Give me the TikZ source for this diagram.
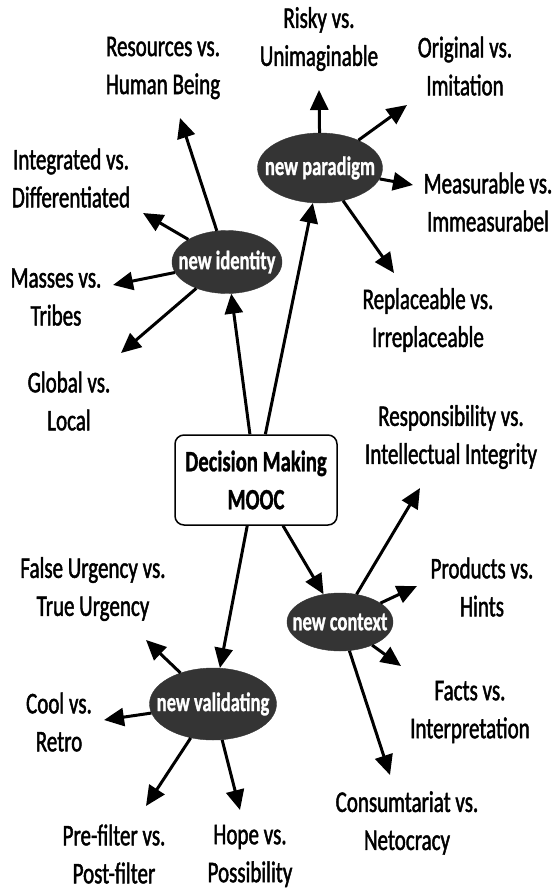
\documentclass[tikz,border=0pt]{standalone}
\usepackage{fontspec}
\setmainfont{Carlito}[FakeStretch=0.70,FakeBold=1.5,BoldFeatures={FakeBold=1}]
\usetikzlibrary{arrows.meta,shapes.geometric}
\definecolor{hubgray}{RGB}{52,52,52}

\begin{document}
\begin{tikzpicture}[x=1pt,y=-1pt,
  every node/.style={font=\fontsize{30}{38}\selectfont,align=center},
  hub/.style={ellipse,fill=hubgray,draw=hubgray,inner sep=0pt,text=white,font=\fontsize{26.5}{30}\selectfont\bfseries},
  arr/.style={line width=3pt,-{Triangle[length=20pt,width=18pt]}}]
\useasboundingbox (0,0) rectangle (552,892);
\node[draw,line width=1.5pt,rounded corners=9pt,minimum width=162pt,minimum height=90pt,font=\fontsize{29.5}{38}\selectfont\bfseries] (core) at (256,480) {Decision Making\\MOOC};
\node[hub,minimum width=125pt,minimum height=70pt] (paradigm) at (320,168) {\makebox[0pt]{new paradigm}};
\node[hub,minimum width=110pt,minimum height=63pt] (identity) at (227,262) {\makebox[0pt]{new identity}};
\node[hub,minimum width=106pt,minimum height=58pt] (context) at (340,622) {\makebox[0pt]{new context}};
\node[hub,minimum width=127pt,minimum height=72pt] (validating) at (213,704) {\makebox[0pt]{new validating}};
\node (risky) at (319,39) {Risky vs.\\Unimaginable};
\node (resources) at (163,68) {Resources vs.\\Human Being};
\node (original) at (465,66) {Original vs.\\Imitation};
\node (integrated) at (71,178) {Integrated vs.\\Differentiated};
\node (measurable) at (488,202) {Measurable vs.\\Immeasurabel};
\node (masses) at (56,297) {Masses vs.\\Tribes};
\node (replaceable) at (428,320) {Replaceable vs.\\Irreplaceable};
\node (global) at (69,401) {Global vs.\\Local};
\node (responsibility) at (451,437) {Responsibility vs.\\Intellectual Integrity};
\node (urgency) at (93,589) {False Urgency vs.\\True Urgency};
\node (products) at (482,587) {Products vs.\\Hints};
\node (cool) at (59,722) {Cool vs.\\Retro};
\node (facts) at (470,712) {Facts vs.\\Interpretation};
\node (consumtariat) at (407,823) {Consumtariat vs.\\Netocracy};
\node (prefilter) at (114,854) {Pre-filter vs.\\Post-filter};
\node (hope) at (250,856) {Hope vs.\\Possibility};
\coordinate (tRisky) at (319,90);
\coordinate (tOriginal) at (407,105);
\coordinate (tMeasurable) at (413,185);
\coordinate (tReplaceable) at (394,273);
\coordinate (tResources) at (180,118);
\coordinate (tIntegrated) at (143,213);
\coordinate (tMasses) at (113,285);
\coordinate (tGlobal) at (121,353);
\coordinate (tResponsibility) at (420,488);
\coordinate (tProducts) at (417,586);
\coordinate (tFacts) at (401,666);
\coordinate (tConsumtariat) at (390,775);
\coordinate (tUrgency) at (146,640);
\coordinate (tCool) at (104,720);
\coordinate (tPrefilter) at (146,806);
\coordinate (tHope) at (240,810);
\draw[arr] (core) -- (paradigm);
\draw[arr] (core) -- (identity);
\draw[arr] (core) -- (context);
\draw[arr] (core) -- (validating);
\draw[arr] (paradigm) -- (tRisky);
\draw[arr] (paradigm) -- (tOriginal);
\draw[arr] (paradigm) -- (tMeasurable);
\draw[arr] (paradigm) -- (tReplaceable);
\draw[arr] (identity) -- (tResources);
\draw[arr] (identity) -- (tIntegrated);
\draw[arr] (identity) -- (tMasses);
\draw[arr] (identity) -- (tGlobal);
\draw[arr] (context) -- (tResponsibility);
\draw[arr] (context) -- (tProducts);
\draw[arr] (context) -- (tFacts);
\draw[arr] (context) -- (tConsumtariat);
\draw[arr] (validating) -- (tUrgency);
\draw[arr] (validating) -- (tCool);
\draw[arr] (validating) -- (tPrefilter);
\draw[arr] (validating) -- (tHope);
\end{tikzpicture}
\end{document}
